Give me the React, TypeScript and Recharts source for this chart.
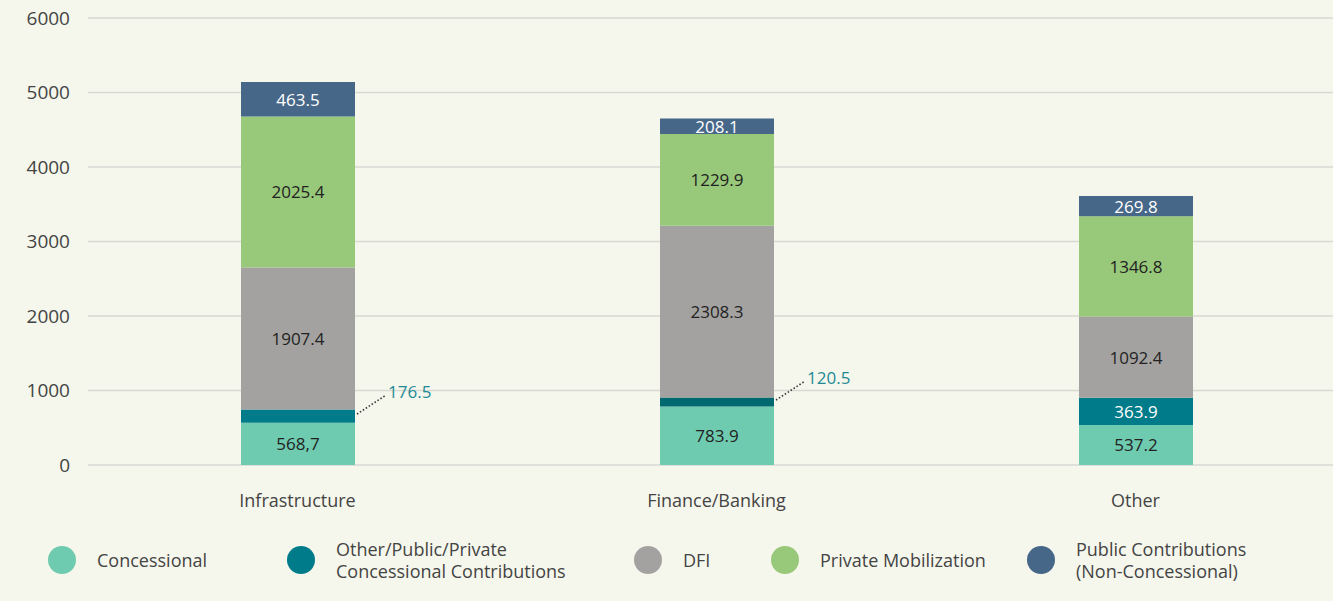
import { BarChart, Bar, XAxis, YAxis, CartesianGrid, LabelList, Cell } from "recharts"

// chart values
const categories = ["Infrastructure", "Finance/Banking", "Other"]
const concessional = [568.7, 783.9, 537.2]
const concessionalLabels = ["568,7", "783.9", "537.2"]
const otherConcessional = [176.5, 120.5, 363.9]
const dfi = [1907.4, 2308.3, 1092.4]
const privateMobilization = [2025.4, 1229.9, 1346.8]
const publicContributions = [463.5, 208.1, 269.8]
const yTicks = [0, 1000, 2000, 3000, 4000, 5000, 6000]

const seriesNames = [
  ["Concessional"],
  ["Other/Public/Private", "Concessional Contributions"],
  ["DFI"],
  ["Private Mobilization"],
  ["Public Contributions", "(Non-Concessional)"],
]

const colors = ["#6fcbb0", "#007b8a", "#a3a2a0", "#98c87a", "#476789"]
const tealShades = ["#007b8a", "#00686f", "#007b8a"]
const legendLeft = [48, 287, 634, 771, 1027]

const FONT = "'Open Sans', sans-serif"

const data = categories.map((name, i) => ({
  name,
  concessional: concessional[i],
  otherConcessional: otherConcessional[i],
  dfi: dfi[i],
  privateMobilization: privateMobilization[i],
  publicContributions: publicContributions[i],
}))

const makeLabel = (fill: string, texts?: string[], outsideWhenSmall = false) => (props: any) => {
  const vb = props.viewBox || props
  const x = Number(props.x ?? vb.x)
  const y = Number(props.y ?? vb.y)
  const width = Number(props.width ?? vb.width)
  const height = Number(props.height ?? vb.height)
  const index = props.index
  const text = texts ? texts[index] : Number(props.value).toFixed(1)
  const cx = x + width / 2
  const cy = y + height / 2
  if (outsideWhenSmall && Math.abs(height) < 20) {
    const x0 = x + width + 2
    return (
      <g>
        <line x1={x0} y1={cy - 2} x2={x0 + 29} y2={cy - 21} stroke="#333" strokeWidth={1.6} strokeDasharray="1.5 2" />
        <text x={x0 + 31} y={cy - 25} fill="#1f8a97" fontSize={17} fontFamily={FONT} dominantBaseline="central">
          {text}
        </text>
      </g>
    )
  }
  return (
    <text x={cx} y={cy} fill={fill} fontSize={17} fontFamily={FONT} textAnchor="middle" dominantBaseline="central">
      {text}
    </text>
  )
}

function ChartLegend() {
  return (
    <>
      {seriesNames.map((lines, i) => (
        <div
          key={i}
          style={{
            position: "absolute",
            left: legendLeft[i],
            top: 560,
            transform: "translateY(-50%)",
            display: "flex",
            alignItems: "center",
            fontFamily: FONT,
            fontSize: 18,
            lineHeight: "22px",
            color: "#444",
            whiteSpace: "nowrap",
          }}
        >
          <span style={{ width: 28, height: 28, borderRadius: "50%", background: colors[i], display: "inline-block", marginRight: 21 }} />
          <span>
            {lines.map((l, j) => (
              <div key={j}>{l}</div>
            ))}
          </span>
        </div>
      ))}
    </>
  )
}

export default function App() {
  return (
    <div style={{ position: "absolute", left: 0, top: 0, width: 1333, height: 601, background: "#f5f7ec", overflow: "hidden" }}>
      <BarChart width={1333} height={530} data={data} margin={{ top: 18, right: 0, left: 0, bottom: 20 }}>
        <CartesianGrid vertical={false} stroke="#d9d9d4" strokeWidth={1.3} />
        <XAxis
          dataKey="name"
          axisLine={false}
          tickLine={false}
          tickSize={0}
          tickMargin={29}
          height={45}
          padding={{ left: 0, right: -12 }}
          tick={{ fill: "#444", fontSize: 18, fontFamily: FONT }}
        />
        <YAxis
          domain={[0, 6000]}
          ticks={yTicks}
          axisLine={false}
          tickLine={false}
          tickSize={0}
          tickMargin={18}
          width={88}
          tick={{ fill: "#444", fontSize: 19, fontFamily: FONT }}
        />
        <Bar dataKey="concessional" stackId="a" barSize={114} fill={colors[0]} isAnimationActive={false}>
          <LabelList dataKey="concessional" content={makeLabel("#222", concessionalLabels)} />
        </Bar>
        <Bar dataKey="otherConcessional" stackId="a" barSize={114} fill={colors[1]} isAnimationActive={false}>
          {data.map((_, i) => (
            <Cell key={i} fill={tealShades[i]} />
          ))}
          <LabelList dataKey="otherConcessional" content={makeLabel("#fff", undefined, true)} />
        </Bar>
        <Bar dataKey="dfi" stackId="a" barSize={114} fill={colors[2]} isAnimationActive={false}>
          <LabelList dataKey="dfi" content={makeLabel("#222")} />
        </Bar>
        <Bar dataKey="privateMobilization" stackId="a" barSize={114} fill={colors[3]} isAnimationActive={false}>
          <LabelList dataKey="privateMobilization" content={makeLabel("#222")} />
        </Bar>
        <Bar dataKey="publicContributions" stackId="a" barSize={114} fill={colors[4]} isAnimationActive={false}>
          <LabelList dataKey="publicContributions" content={makeLabel("#fff")} />
        </Bar>
      </BarChart>
      <ChartLegend />
    </div>
  )
}
